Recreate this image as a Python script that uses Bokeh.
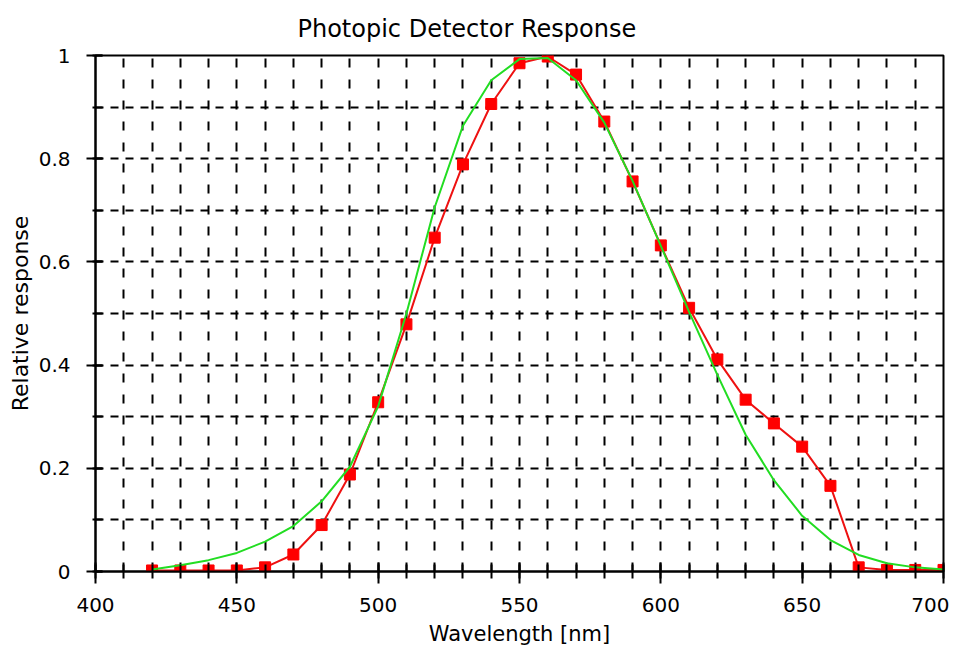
from bokeh.plotting import figure
from bokeh.models import FixedTicker, Range1d
from bokeh.embed import file_html
from bokeh.resources import INLINE

# ---- data ----
wavelength = [420, 430, 440, 450, 460, 470, 480, 490, 500, 510, 520, 530, 540, 550,
              560, 570, 580, 590, 600, 610, 620, 630, 640, 650, 660, 670, 680, 690, 700]
detector = [0.002, 0.002, 0.002, 0.002, 0.008, 0.033, 0.090, 0.188, 0.328, 0.479, 0.647,
            0.789, 0.906, 0.985, 0.998, 0.963, 0.872, 0.756, 0.632, 0.511, 0.411, 0.333,
            0.287, 0.242, 0.166, 0.008, 0.003, 0.003, 0.003]
photopic = [0.004, 0.012, 0.022, 0.036, 0.058, 0.088, 0.136, 0.203, 0.320, 0.500, 0.706,
            0.864, 0.952, 0.993, 0.995, 0.952, 0.870, 0.757, 0.631, 0.503, 0.381, 0.265,
            0.177, 0.108, 0.061, 0.032, 0.016, 0.008, 0.004]

x_major = [400, 450, 500, 550, 600, 650, 700]
x_minor = list(range(400, 701, 10))
y_major = [0, 0.2, 0.4, 0.6, 0.8, 1]
y_major_labels = ["0", "0.2", "0.4", "0.6", "0.8", "1"]
y_minor = [0, 0.1, 0.2, 0.3, 0.4, 0.5, 0.6, 0.7, 0.8, 0.9, 1]

title_text = "Photopic Detector Response"
x_label = "Wavelength [nm]"
y_label = "Relative response"

FONT = "DejaVu Sans"

p = figure(width=949, height=648, output_backend="svg", toolbar_location=None,
           x_range=Range1d(400, 700), y_range=Range1d(0, 1),
           min_border_left=95, min_border_right=6, min_border_top=54, min_border_bottom=73,
           title=title_text)
p.background_fill_color = "white"
p.border_fill_color = "white"
p.outline_line_color = "black"
p.outline_line_width = 2

p.title.text_font = FONT
p.title.text_font_size = "24px"
p.title.text_font_style = "normal"
p.title.text_color = "black"
p.title.align = "left"
p.title.offset = 202
p.title.standoff = 25

# grid
p.xgrid.ticker = FixedTicker(ticks=x_minor)
p.ygrid.ticker = FixedTicker(ticks=y_minor)
p.xgrid.grid_line_color = "black"
p.ygrid.grid_line_color = "black"
p.xgrid.grid_line_width = 2
p.ygrid.grid_line_width = 2
p.xgrid.grid_line_dash = "9 12"
p.ygrid.grid_line_dash = "8 7"

# x axis
xa = p.xaxis[0]
xa.ticker = FixedTicker(ticks=x_major, minor_ticks=x_minor)
xa.axis_line_width = 2
xa.axis_line_color = "black"
xa.major_tick_line_color = "black"
xa.major_tick_line_width = 2
xa.minor_tick_line_color = "black"
xa.minor_tick_line_width = 2
xa.major_tick_in = 9
xa.major_tick_out = 12
xa.minor_tick_in = 7
xa.minor_tick_out = 7
xa.major_label_standoff = 14
xa.major_label_text_font = FONT
xa.major_label_text_font_size = "20px"
xa.major_label_text_color = "black"
xa.axis_label = x_label
xa.axis_label_text_font = FONT
xa.axis_label_text_font_size = "21px"
xa.axis_label_text_font_style = "normal"
xa.axis_label_text_color = "black"
xa.axis_label_standoff = 7

# y axis
ya = p.yaxis[0]
ya.ticker = FixedTicker(ticks=y_major, minor_ticks=y_minor)
ya.major_label_overrides = dict(zip(y_major, y_major_labels))
ya.axis_line_width = 2
ya.axis_line_color = "black"
ya.major_tick_line_color = "black"
ya.major_tick_line_width = 2
ya.minor_tick_line_color = "black"
ya.minor_tick_line_width = 2
ya.major_tick_in = 7
ya.major_tick_out = 9
ya.minor_tick_in = 7
ya.minor_tick_out = 3
ya.major_label_standoff = 16
ya.major_label_text_font = FONT
ya.major_label_text_font_size = "20px"
ya.major_label_text_color = "black"
ya.axis_label = y_label
ya.axis_label_text_font = FONT
ya.axis_label_text_font_size = "22px"
ya.axis_label_text_font_style = "normal"
ya.axis_label_text_color = "black"
ya.axis_label_standoff = 3

# data
p.line(wavelength, detector, line_color="#ee1111", line_width=2)
p.scatter(wavelength, detector, marker="square", size=11,
          fill_color="#ff0000", line_color="#ff0000")
p.line(wavelength, photopic, line_color="#22dd22", line_width=2)

open("out.html", "w").write(file_html(p, INLINE))
